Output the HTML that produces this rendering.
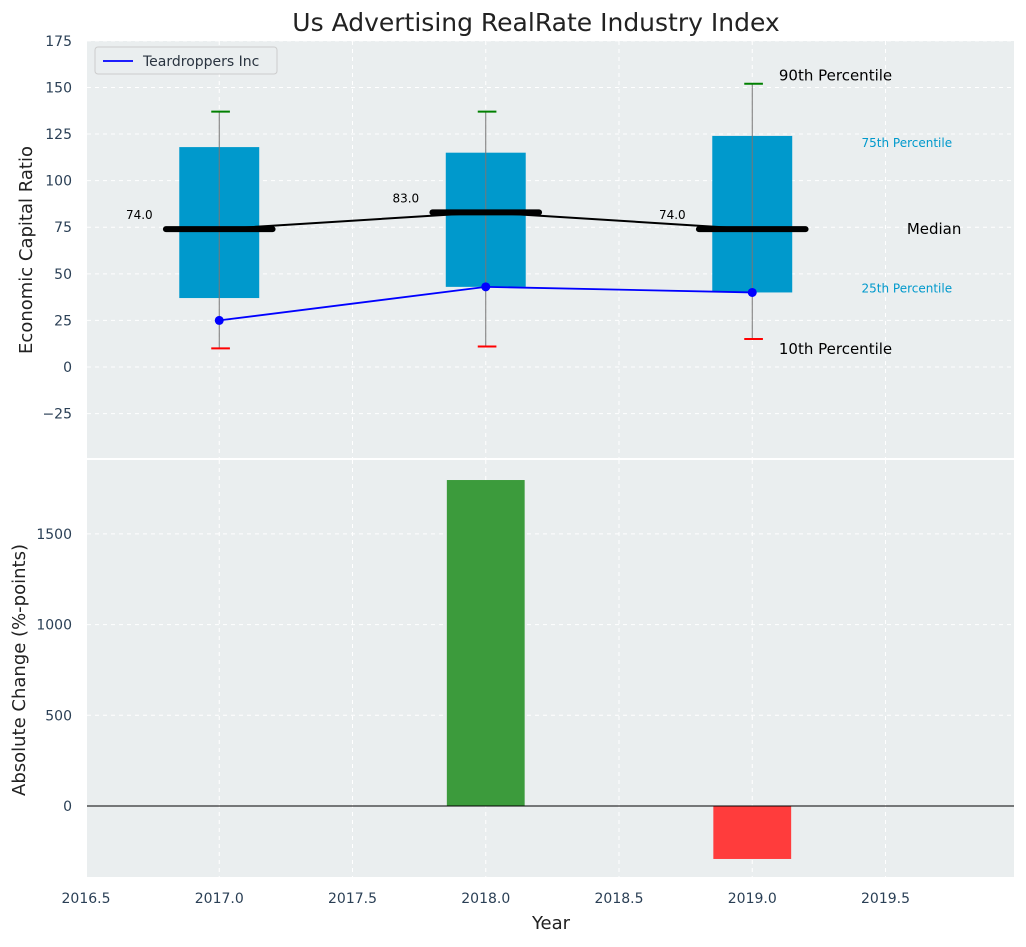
<!DOCTYPE html>
<html><head><meta charset="utf-8">
<style>
body{margin:0;background:#fff;font-family:"Liberation Sans","DejaVu Sans",sans-serif;}
svg text{font-family:"DejaVu Sans","Liberation Sans",sans-serif;}
</style></head>
<body>
<svg id="chart" width="1026" height="942" xmlns="http://www.w3.org/2000/svg"></svg>
<script>
const years=[2017,2018,2019];
const q10=[10,11,15];
const q25=[37,43,40];
const q75=[118,115,124];
const q90=[137,137,152];
const medians=[74,83,74];
const company=[25,43,40];
const changes=[0,1797,-292];
const topTicks=[-25,0,25,50,75,100,125,150,175];
const botTicks=[0,500,1000,1500];
const xTicks=[2016.5,2017,2017.5,2018,2018.5,2019,2019.5];

const L=87,R=1014;
const X=v=>86+(v-2016.5)*266.5;
const TT=41,TB=458;
const YT=v=>367-v*1.8636;
const BT=460,BB=877;
const YB=v=>806-v*0.1814;
const NS="http://www.w3.org/2000/svg";
const svg=document.getElementById('chart');
function mk(tag,attrs,parent){const e=document.createElementNS(NS,tag);for(const k in attrs)e.setAttribute(k,attrs[k]);(parent||svg).appendChild(e);return e;}
function txt(s,attrs,parent){const e=mk('text',attrs,parent);e.textContent=s;return e;}

// backgrounds
let e=mk('rect',{x:L,y:TT,width:R-L,height:TB-TT,fill:'#eaeeef'});

e=mk('rect',{x:L,y:BT,width:R-L,height:BB-BT,fill:'#eaeeef'});


// grids
xTicks.forEach(v=>{
  mk('line',{x1:X(v),x2:X(v),y1:TT,y2:TB,stroke:'#fff','stroke-dasharray':'4,4','stroke-width':1});
  mk('line',{x1:X(v),x2:X(v),y1:BT,y2:BB,stroke:'#fff','stroke-dasharray':'4,4','stroke-width':1});
  e=txt(v.toFixed(1),{x:X(v),y:903,'text-anchor':'middle','font-size':14,fill:'#2a3f55'});
  
});
topTicks.forEach(v=>{
  mk('line',{x1:L,x2:R,y1:YT(v),y2:YT(v),stroke:'#fff','stroke-dasharray':'4,4'});
  e=txt(v<0?'\u2212'+(-v):String(v),{x:72,y:YT(v)+5,'text-anchor':'end','font-size':14,fill:'#2a3f55'});
  
});
botTicks.forEach(v=>{
  mk('line',{x1:L,x2:R,y1:YB(v),y2:YB(v),stroke:'#fff','stroke-dasharray':'4,4'});
  e=txt(String(v),{x:72,y:YB(v)+5,'text-anchor':'end','font-size':14,fill:'#2a3f55'});
  
});

// boxes
years.forEach((y,i)=>{
  e=mk('rect',{x:X(y-0.15),y:YT(q75[i]),width:X(y+0.15)-X(y-0.15),height:YT(q25[i])-YT(q75[i]),fill:'#0099cc'});
  
  e=mk('line',{x1:X(y),x2:X(y),y1:YT(q90[i]),y2:YT(q10[i]),stroke:'#777','stroke-width':1});
  
  e=mk('line',{x1:X(y-0.03),x2:X(y+0.04),y1:YT(q90[i]),y2:YT(q90[i]),stroke:'green','stroke-width':2});
  
  e=mk('line',{x1:X(y-0.03),x2:X(y+0.04),y1:YT(q10[i]),y2:YT(q10[i]),stroke:'red','stroke-width':2});
  
});
// median connecting line
e=mk('polyline',{points:years.map((y,i)=>X(y)+','+YT(medians[i])).join(' '),fill:'none',stroke:'#000','stroke-width':2});

years.forEach((y,i)=>{
  e=mk('line',{x1:X(y-0.2),x2:X(y+0.2),y1:YT(medians[i]),y2:YT(medians[i]),stroke:'#000','stroke-width':6,'stroke-linecap':'round'});
  
  e=txt(medians[i].toFixed(1),{x:X(y-0.3),y:YT(medians[i])-10,'text-anchor':'middle','font-size':12,fill:'#000'});
  
});
// company
e=mk('polyline',{points:years.map((y,i)=>X(y)+','+YT(company[i])).join(' '),fill:'none',stroke:'#0000ff','stroke-width':1.8});

years.forEach((y,i)=>{
  e=mk('circle',{cx:X(y),cy:YT(company[i]),r:4.5,fill:'#0000ff'});
  
});
// annotations
const last=2;
[['90th Percentile',X(2019.1),YT(q90[last])-3,15,'#000'],
 ['10th Percentile',X(2019.1),YT(q10[last])+15,15,'#000'],
 ['75th Percentile',X(2019.41),YT(q75[last])+11,12,'#0099cc'],
 ['25th Percentile',X(2019.41),YT(q25[last])+0,12,'#0099cc'],
 ['Median',X(2019.58),YT(medians[last])+5,15,'#000']].forEach(a=>{
  e=txt(a[0],{x:a[1],y:a[2],'font-size':a[3],fill:a[4]});
  
});
// legend
e=mk('rect',{x:95,y:47,width:182,height:27,rx:3,fill:'#eaeeef',stroke:'#ccc'});

mk('line',{x1:103,x2:133,y1:61,y2:61,stroke:'#0000ff','stroke-width':1.8});
e=txt('Teardroppers Inc',{x:143,y:66,'font-size':14,fill:'#2a3440'});


// bottom bars
years.forEach((y,i)=>{
  const v=changes[i];
  e=mk('rect',{x:X(y-0.146),y:Math.min(YB(v),YB(0)),width:X(y+0.146)-X(y-0.146),height:Math.abs(YB(v)-YB(0)),fill:v>=0?'#3c9b3c':'#ff3c3c'});
  
});
e=mk('line',{x1:L,x2:R,y1:YB(0),y2:YB(0),stroke:'#000','stroke-width':1});


// titles
e=txt('Us Advertising RealRate Industry Index',{x:536,y:31,'text-anchor':'middle','font-size':25,fill:'#222'});

e=txt('Economic Capital Ratio',{x:0,y:0,transform:'translate(32,250) rotate(-90)','text-anchor':'middle','font-size':18,fill:'#222'});

e=txt('Absolute Change (%-points)',{x:0,y:0,transform:'translate(25,670) rotate(-90)','text-anchor':'middle','font-size':18,fill:'#222'});

e=txt('Year',{x:551,y:929,'text-anchor':'middle','font-size':18,fill:'#222'});

</script>
</body></html>
